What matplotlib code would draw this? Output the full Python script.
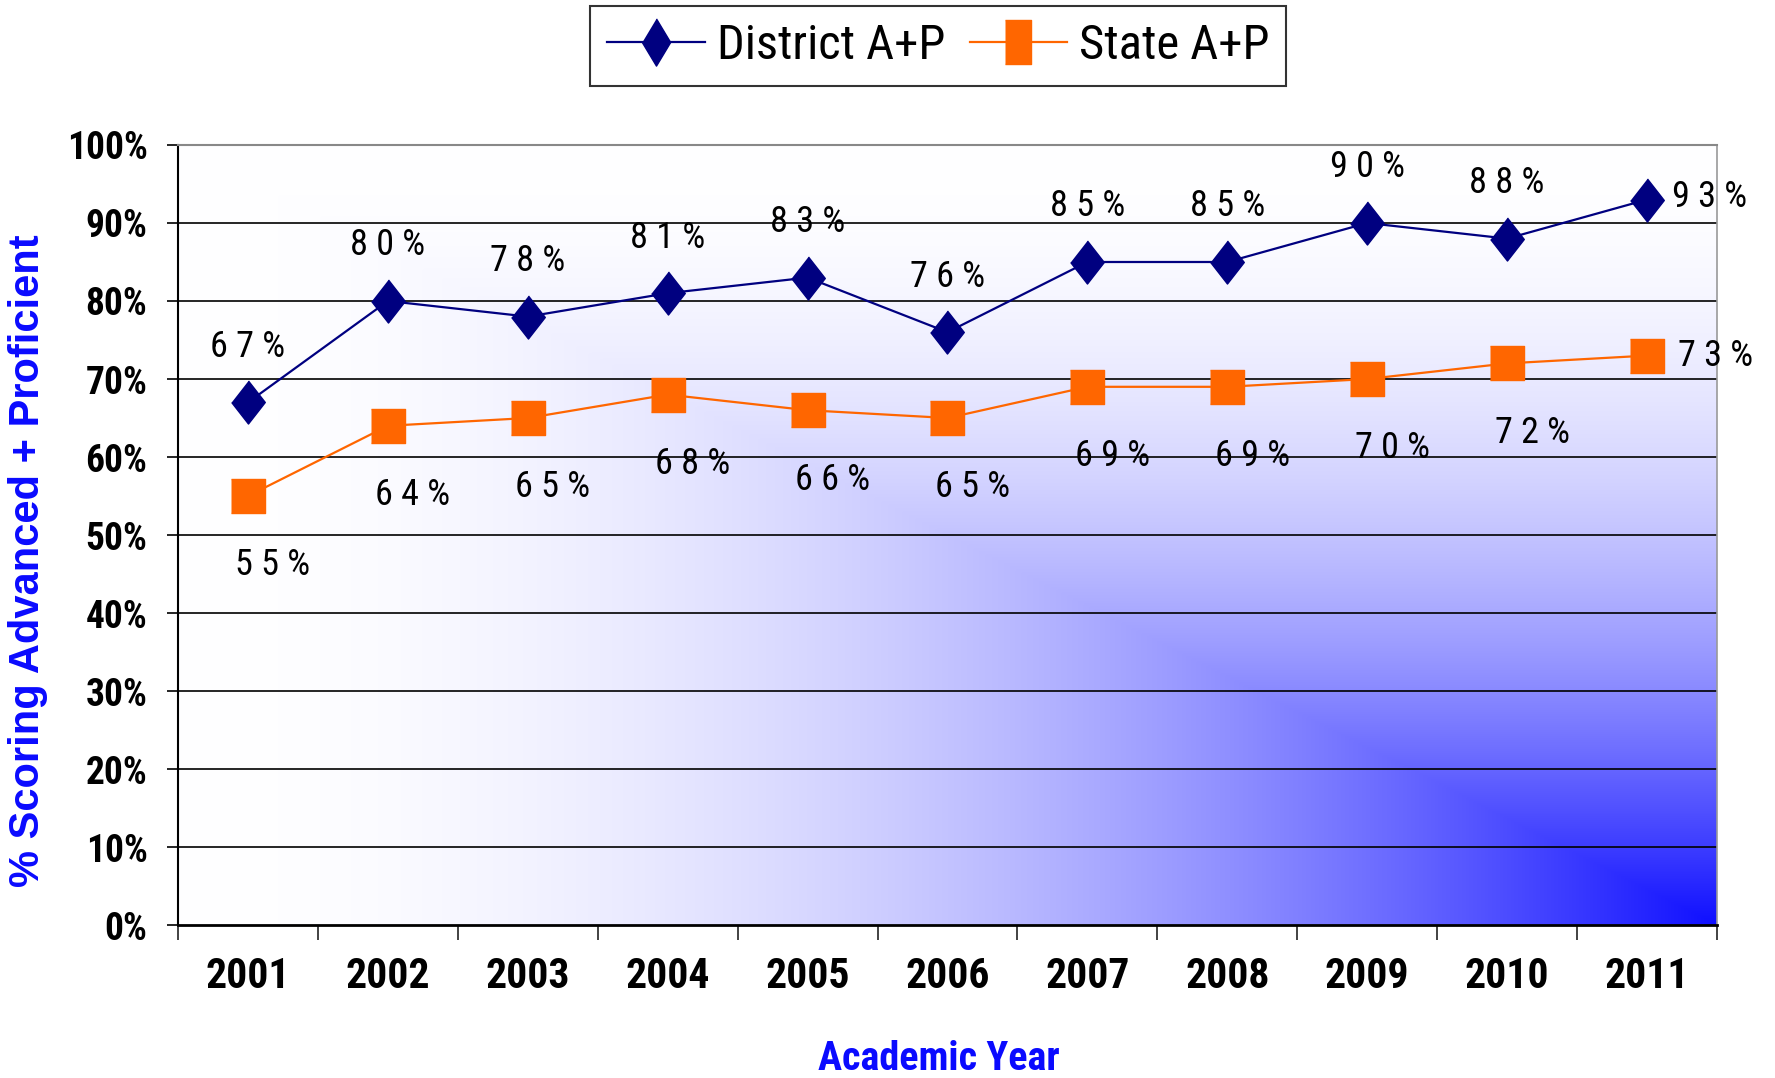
import numpy as np
import matplotlib
matplotlib.use("Agg")
from matplotlib import pyplot as plt
from matplotlib import font_manager as fm
from matplotlib.lines import Line2D
from matplotlib.ticker import FixedLocator, NullFormatter

years = ["2001", "2002", "2003", "2004", "2005", "2006",
         "2007", "2008", "2009", "2010", "2011"]
district = [67, 80, 78, 81, 83, 76, 85, 85, 90, 88, 93]
state = [55, 64, 65, 68, 66, 65, 69, 69, 70, 72, 73]
yticks = [0, 10, 20, 30, 40, 50, 60, 70, 80, 90, 100]

NAVY = "#000080"
ORANGE = "#ff6600"
BLUE = "#0a0aff"


def pick(*names):
    '''First installed family of names, DejaVu Sans as the last resort'''
    have = {f.name for f in fm.fontManager.ttflist}
    return [n for n in names if n in have] + ["DejaVu Sans"]


NARROW = pick("Roboto Condensed", "Liberation Sans Narrow", "Liberation Sans")
ARIAL = pick("Liberation Sans", "Arimo")


def spaced(v):
    '''Data label with the letter spacing of the original'''
    return " ".join(f"{v}%")


def background(ax, n):
    '''Corner gradient: white along top and left, deep blue bottom right'''
    u = np.linspace(0, 1, 600)[None, :]
    v = np.linspace(1, 0, 400)[:, None]
    t = np.minimum(u ** 2, (1 - v) ** 2)[..., None]
    end = np.array([0.06, 0.06, 1.0])
    img = (1 - t) * np.ones(3) + t * end
    ax.imshow(img, extent=(0.5, n + 0.5, 0, 100), aspect="auto",
              interpolation="bilinear", zorder=0)


fig = plt.figure(figsize=(17.75, 10.78), dpi=100)
ax = fig.add_axes([0.1003, 0.1419, 0.9673 - 0.1003, 0.8655 - 0.1419])

n = len(years)
x = np.arange(1, n + 1)
background(ax, n)

diamond = [(0, 1), (0.78, 0), (0, -1), (-0.78, 0)]
thin_diamond = [(0, 1), (0.6, 0), (0, -1), (-0.6, 0)]
square = [(-1, -1), (1, -1), (1, 1), (-1, 1)]
tall_box = [(-0.6, -1), (0.6, -1), (0.6, 1), (-0.6, 1)]

ax.plot(x, district, color=NAVY, lw=1.6, marker=diamond, ms=31,
        mfc=NAVY, mec=NAVY, zorder=4)
ax.plot(x, state, color=ORANGE, lw=1.6, marker=square, ms=24,
        mfc=ORANGE, mec=ORANGE, zorder=4)

for i, (d, s) in enumerate(zip(district, state)):
    last = i == n - 1
    ax.annotate(spaced(d), (x[i], d), xytext=(18, 2) if last else (0, 40),
                textcoords="offset points", ha="left" if last else "center",
                va="center", fontsize=26, family=NARROW, zorder=5,
                annotation_clip=False)
    ax.annotate(spaced(s), (x[i], s), xytext=(22, 0) if last else (18, -50),
                textcoords="offset points", ha="left" if last else "center",
                va="center", fontsize=26, family=NARROW, zorder=5,
                annotation_clip=False)

ax.set_xlim(0.5, n + 0.5)
ax.set_ylim(0, 100)

# category ticks sit between the years, the labels in the middle
ax.xaxis.set_major_locator(FixedLocator(np.arange(0.5, n + 1)))
ax.xaxis.set_major_formatter(NullFormatter())
ax.xaxis.set_minor_locator(FixedLocator(x))
ax.set_xticklabels(years, minor=True)
ax.tick_params(axis="x", which="major", length=11, width=1.2, color="#222222")
ax.tick_params(axis="x", which="minor", length=0, pad=22)
for lab in ax.get_xticklabels(minor=True):
    lab.set_fontfamily(NARROW)
    lab.set_fontweight("bold")
    lab.set_fontsize(30)

ax.set_yticks(yticks)
ax.set_yticklabels([f"{v}%" for v in yticks])
ax.tick_params(axis="y", length=8, width=1.2, pad=14)
for lab in ax.get_yticklabels():
    lab.set_fontfamily(NARROW)
    lab.set_fontweight("bold")
    lab.set_fontsize(27)

for v in yticks[1:-1]:
    ax.axhline(v, color="black", lw=1.2, zorder=1)
ax.spines["top"].set_color("#888888")
ax.spines["top"].set_linewidth(1.5)
ax.spines["right"].set_color("#999999")
ax.spines["right"].set_linewidth(1.2)
ax.spines["left"].set_linewidth(1.5)
ax.spines["bottom"].set_linewidth(2)

fig.text(0.0155, 0.48, "% Scoring Advanced + Proficient", rotation=90,
         ha="center", va="center", color=BLUE, fontsize=30,
         fontweight="bold", family=ARIAL)
fig.text(0.529, 0.018, "Academic Year", ha="center", va="center",
         color=BLUE, fontsize=29, fontweight="bold", family=NARROW)

handles = [
    Line2D([], [], color=NAVY, lw=1.6, marker=thin_diamond, ms=34,
           mfc=NAVY, mec=NAVY, label="District A+P"),
    Line2D([], [], color=ORANGE, lw=1.6, marker=tall_box, ms=32,
           mfc=ORANGE, mec=ORANGE, label="State A+P"),
]
leg = fig.legend(handles=handles, loc="upper center",
                 bbox_to_anchor=(0.5287, 0.9944), ncol=2, frameon=True,
                 fancybox=False, prop={"family": NARROW, "size": 35},
                 handlelength=2.0, handletextpad=0.25, columnspacing=0.5,
                 borderpad=0.35, borderaxespad=0)
leg.get_frame().set_edgecolor("black")
leg.get_frame().set_linewidth(1.5)

fig.savefig("out.png", dpi=100)
